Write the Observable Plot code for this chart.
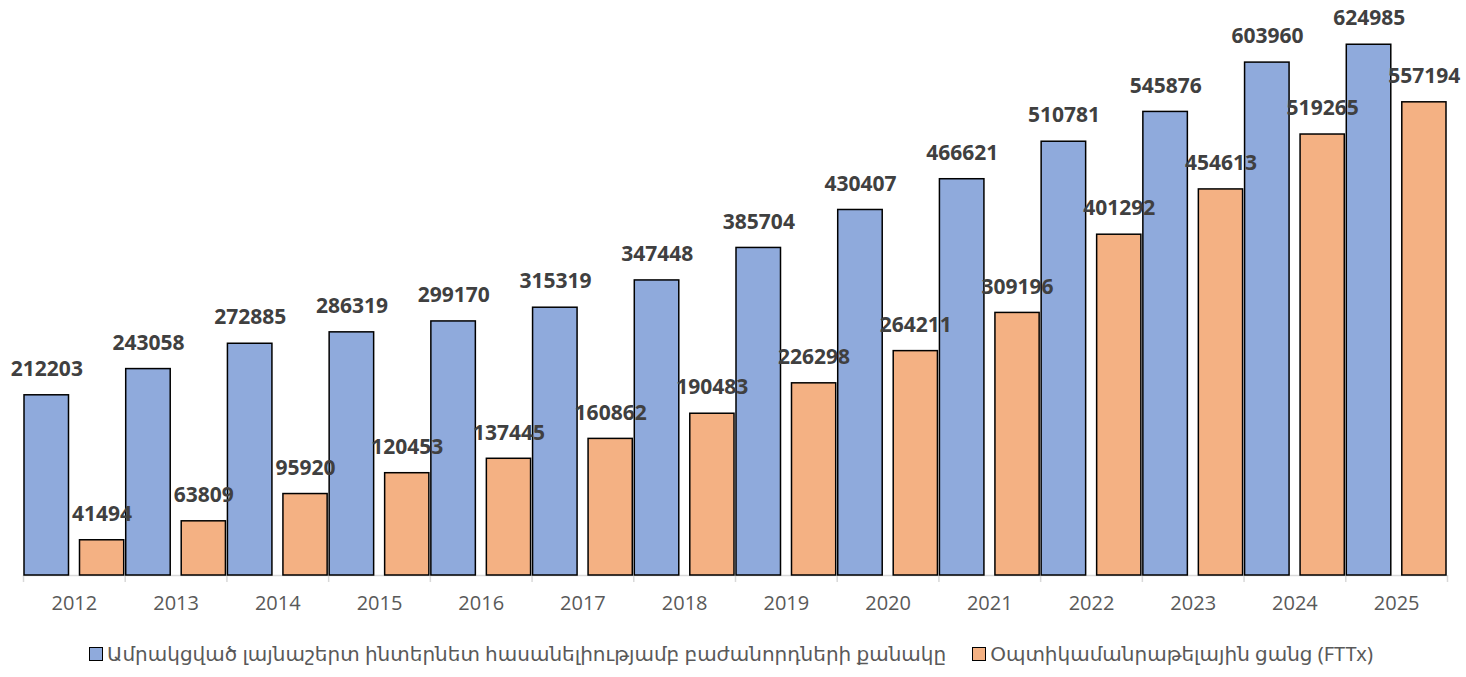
<!DOCTYPE html>
<html>
<head>
<meta charset="utf-8">
<script src="https://cdn.jsdelivr.net/npm/d3@7"></script>
<script src="https://cdn.jsdelivr.net/npm/@observablehq/plot@0.6"></script>
<style>
  body { margin: 0; background: #fff; }
  #chart svg { display: block; }
  .legend { display: flex; justify-content: center; align-items: center; gap: 26px;
            font-family: "Noto Sans", "DejaVu Sans", sans-serif; font-size: 20px; color: #595959;
            height: 47px; margin-left: -4px; }
  .legend span.item { display: inline-flex; align-items: center; gap: 4px; }
  .legend span.sw { display: inline-block; width: 12px; height: 12px; border: 1.5px solid #000; }
</style>
</head>
<body>
<div id="chart"></div>
<script>
const years = ["2012","2013","2014","2015","2016","2017","2018","2019","2020","2021","2022","2023","2024","2025"];
const fixedBroadband = [212203,243058,272885,286319,299170,315319,347448,385704,430407,466621,510781,545876,603960,624985];
const fttx = [41494,63809,95920,120453,137445,160862,190483,226298,264211,309196,401292,454613,519265,557194];
const seriesNames = [
  "Ամրակցված լայնաշերտ ինտերնետ հասանելիությամբ բաժանորդների քանակը",
  "Օպտիկամանրաթելային ցանց (FTTx)"
];
const seriesColors = ["#8FAADC", "#F4B183"];

const W = 1466, H = 630, mL = 23, mR = 19, mT = 23, mB = 55;
const step = (W - mL - mR) / years.length;

const blue = years.map((y, i) => ({year: y, value: fixedBroadband[i]}));
const orange = years.map((y, i) => ({year: y, value: fttx[i]}));

const labelFont = {fontFamily: "Open Sans, Noto Sans, sans-serif", fontWeight: 700, fontSize: 21, fill: "#404040"};

const plot = Plot.plot({
  width: W, height: H,
  marginLeft: mL, marginRight: mR, marginTop: mT, marginBottom: mB,
  style: {fontFamily: "Open Sans, Noto Sans, sans-serif", background: "#fff"},
  x: {type: "band", domain: years, padding: 0, round: false, label: null},
  y: {domain: [0, 650000], axis: null},
  marks: [
    Plot.ruleY([0], {stroke: "#d9d9d9", strokeWidth: 1.5}),
    Plot.ruleX(years, {x: d => d, dx: -step / 2, y1: 0, y2: 0, insetBottom: -7, stroke: "#d9d9d9", strokeWidth: 1.5}),
    Plot.ruleX([years[years.length - 1]], {x: d => d, dx: step / 2, y1: 0, y2: 0, insetBottom: -7, stroke: "#d9d9d9", strokeWidth: 1.5}),
    Plot.barY(blue, {x: "year", y: "value", fill: seriesColors[0], stroke: "#000", strokeWidth: 1.5,
      insetLeft: 1, insetRight: step - 45.5}),
    Plot.barY(orange, {x: "year", y: "value", fill: seriesColors[1], stroke: "#000", strokeWidth: 1.5,
      insetLeft: 56.5, insetRight: 1}),
    Plot.text(blue, {x: "year", y: "value", text: d => String(d.value), dx: -27.5, dy: -26, ...labelFont}),
    Plot.text(orange, {x: "year", y: "value", text: d => String(d.value), dx: 27.7, dy: -26, ...labelFont}),
    Plot.axisX({tickSize: 0, tickPadding: 20, fontSize: 20, fill: "#595959", label: null})
  ]
});
document.getElementById("chart").appendChild(plot);

const legend = document.createElement("div");
legend.className = "legend";
seriesNames.forEach((name, i) => {
  const item = document.createElement("span");
  item.className = "item";
  const sw = document.createElement("span");
  sw.className = "sw";
  sw.style.background = seriesColors[i];
  item.appendChild(sw);
  item.appendChild(document.createTextNode(name));
  legend.appendChild(item);
});
document.body.appendChild(legend);
</script>
</body>
</html>
